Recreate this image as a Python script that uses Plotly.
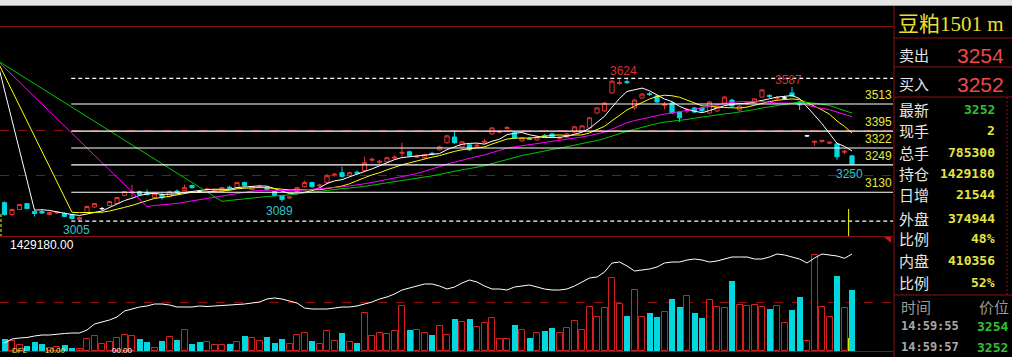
import pandas as pd
import plotly.graph_objects as go

W, H = 1012, 357

# ------------------------------------------------------------------ data
opens = [3085, 3033, 3055, 3081, 3046, 3046, 3033, 3040, 3038, 3033,
         3012, 3042, 3066, 3059, 3072, 3081, 3116, 3127, 3133, 3129,
         3107, 3120, 3111, 3135, 3137, 3159, 3133, 3140, 3135, 3133,
         3152, 3150, 3172, 3142, 3152, 3150, 3133, 3116, 3105, 3133,
         3154, 3172, 3157, 3172, 3204, 3215, 3202, 3217, 3224, 3269,
         3260, 3262, 3278, 3299, 3306, 3282, 3280, 3299, 3314, 3345,
         3370, 3327, 3336, 3330, 3347, 3383, 3390, 3407, 3388, 3353,
         3364, 3357, 3377, 3383, 3364, 3370, 3392, 3396, 3409, 3474,
         3483, 3561, 3602, 3610, 3496, 3539, 3558, 3548, 3507, 3517,
         3478, 3483, 3496, 3496, 3474, 3483, 3517, 3530, 3487, 3515,
         3517, 3543, 3550, 3537, 3539, 3561, 3522, 3375, 3347, 3351,
         3343, 3340, 3304, 3288]
highs = [3090, 3059, 3079, 3083, 3050, 3055, 3046, 3048, 3042, 3036,
         3025, 3072, 3083, 3066, 3092, 3109, 3135, 3163, 3137, 3142,
         3127, 3129, 3137, 3142, 3163, 3163, 3137, 3150, 3146, 3154,
         3159, 3176, 3176, 3157, 3163, 3154, 3137, 3118, 3111, 3154,
         3180, 3176, 3167, 3210, 3215, 3241, 3219, 3224, 3284, 3280,
         3271, 3284, 3290, 3345, 3310, 3293, 3297, 3306, 3332, 3379,
         3396, 3353, 3340, 3340, 3362, 3413, 3398, 3418, 3392, 3370,
         3370, 3375, 3383, 3388, 3375, 3388, 3418, 3422, 3457, 3500,
         3522, 3617, 3620, 3624, 3535, 3561, 3565, 3552, 3522, 3522,
         3483, 3496, 3500, 3500, 3526, 3509, 3548, 3535, 3509, 3526,
         3539, 3578, 3556, 3548, 3548, 3587, 3526, 3379, 3353, 3357,
         3349, 3345, 3312, 3290]
lows = [3029, 3025, 3053, 3057, 3025, 3036, 3029, 3036, 3022, 3012,
        3005, 3040, 3062, 3053, 3070, 3079, 3112, 3107, 3116, 3116,
        3103, 3098, 3107, 3124, 3135, 3146, 3129, 3137, 3131, 3129,
        3142, 3146, 3154, 3140, 3148, 3140, 3112, 3089, 3101, 3129,
        3150, 3150, 3152, 3167, 3198, 3194, 3198, 3208, 3219, 3262,
        3254, 3258, 3271, 3284, 3284, 3278, 3275, 3290, 3310, 3340,
        3340, 3323, 3310, 3325, 3340, 3379, 3386, 3403, 3362, 3349,
        3357, 3353, 3370, 3366, 3360, 3366, 3388, 3392, 3405, 3470,
        3478, 3556, 3595, 3600, 3487, 3535, 3548, 3517, 3491, 3470,
        3435, 3474, 3474, 3478, 3470, 3478, 3513, 3500, 3483, 3509,
        3513, 3539, 3539, 3530, 3535, 3543, 3487, 3370, 3332, 3345,
        3340, 3271, 3295, 3250]
closes = [3033, 3055, 3077, 3059, 3038, 3040, 3042, 3044, 3025, 3016,
          3020, 3068, 3081, 3059, 3090, 3107, 3133, 3131, 3120, 3120,
          3124, 3107, 3133, 3131, 3150, 3150, 3133, 3144, 3138, 3150,
          3148, 3172, 3159, 3154, 3155, 3142, 3116, 3098, 3109, 3150,
          3172, 3154, 3161, 3202, 3208, 3198, 3215, 3213, 3258, 3273,
          3264, 3280, 3282, 3303, 3288, 3286, 3293, 3295, 3327, 3375,
          3345, 3349, 3314, 3334, 3351, 3409, 3394, 3411, 3366, 3366,
          3360, 3370, 3373, 3370, 3368, 3383, 3414, 3418, 3453, 3496,
          3517, 3612, 3606, 3606, 3530, 3556, 3554, 3522, 3511, 3474,
          3453, 3487, 3478, 3483, 3522, 3504, 3543, 3504, 3504, 3519,
          3535, 3574, 3546, 3541, 3539, 3548, 3509, 3375, 3351, 3355,
          3347, 3284, 3308, 3252]
doji_idx = [13, 26, 104, 107]

# volume in thousands of lots, with bar colour (r = up / hollow red, c = down / cyan)
volume_k = [154, 129, 77, 64, 116, 90, 42, 51, 77, 42,
            26, 154, 193, 90, 116, 167, 206, 193, 154, 116,
            39, 129, 180, 142, 270, 90, 116, 116, 77, 77,
            90, 116, 193, 167, 129, 180, 103, 154, 90, 206,
            232, 129, 90, 257, 129, 232, 116, 103, 489, 193,
            232, 219, 257, 579, 270, 270, 232, 206, 322, 206,
            412, 373, 412, 309, 360, 425, 154, 154, 335, 270,
            167, 232, 257, 296, 232, 296, 386, 270, 566, 438,
            554, 940, 605, 451, 785, 438, 489, 438, 502, 669,
            566, 708, 489, 425, 657, 566, 554, 901, 592, 579,
            592, 566, 541, 579, 360, 528, 695, 129, 1236, 566,
            438, 966, 554, 785]
volume_dir = list("crrcccrrcc" "rrrrrrrrcc" "rcrcrccrrr"
                  "crcrrcccrr" "rcrrrcrcrr" "rrrrcrrcrr"
                  "crcrrrrrcr" "crccrrrrrr" "rrrcrrccrc"
                  "crccrrrcrr" "rrcrrccrrr" "rcrc")

open_interest = [984180, 1004180, 1009180, 1011680, 1019180, 1024180, 1024180, 1029180, 1031680, 1034180,
                 1034180, 1049180, 1079180, 1089180, 1099180, 1114180, 1144180, 1154180, 1164180, 1169180,
                 1179180, 1179180, 1174180, 1164180, 1164180, 1164180, 1169180, 1166680, 1169180, 1171680,
                 1174180, 1174180, 1179180, 1184180, 1189180, 1204180, 1209180, 1204180, 1194180, 1184180,
                 1159180, 1154180, 1154180, 1154180, 1159180, 1164180, 1164180, 1169180, 1179180, 1189180,
                 1204180, 1214180, 1229180, 1249180, 1259180, 1269180, 1279180, 1279180, 1269180, 1254180,
                 1264180, 1284180, 1299180, 1289180, 1269180, 1254180, 1254180, 1249180, 1264180, 1269180,
                 1274180, 1264180, 1254180, 1249180, 1249180, 1254180, 1269180, 1289180, 1309180, 1314180,
                 1339180, 1384180, 1389180, 1369180, 1344180, 1349180, 1354180, 1364180, 1384180, 1389180,
                 1389180, 1399180, 1404180, 1399180, 1389180, 1394180, 1404180, 1414180, 1414180, 1414180,
                 1404180, 1404180, 1414180, 1429180, 1424180, 1414180, 1404180, 1384180, 1409180, 1429180,
                 1424180, 1419180, 1407636, 1429180]

ma_periods = [5, 10, 20, 30]
ma_prev_value = 3703          # averages carried in from the bar left of the window
fib_solid = [3513, 3395, 3322, 3249, 3130]
fib_dashed = [3624, 3005]
grid_prices = [3201, 3396]
high_marks = [83, 105]
low_marks = [10, 37, 113]

title_text = "豆粕1501 m"
ask_bid = [("卖出", "3254"), ("买入", "3252")]
quote_labels = ["最新", "现手", "总手", "持仓", "日增", "外盘", "比例", "内盘", "比例"]
quote_values = ["3252", "2", "785300", "1429180", "21544", "374944", "48%", "410356", "52%"]
tick_times = ["14:59:55", "14:59:57"]
tick_prices = ["3254", "3252"]
oi_caption = "1429180.00"
footer_texts = [("DFL", "y"), ("10.00", "y"), ("00.00", "w")]

# ------------------------------------------------------------------ style
RED = "#E83232"
VRED = "#D42020"
CYAN = "#00D8E0"
DRED = "#8C1010"
YEL = "#E8E840"
MA_COLORS = ["#FFFFFF", "#FFFF00", "#FF00FF", "#00C800"]
FONT = "Liberation Sans, Arial, sans-serif"
CJK = "Noto Sans CJK SC, sans-serif"
MONO = "DejaVu Sans Mono, monospace"


def px(xp):
    return xp / W


def py(yp):
    return 1 - yp / H


PANEL_R = 893                      # right edge of the chart area (px)
BAR_PX = 7.5                       # px per bar
X0 = -4.5 / BAR_PX
X1 = X0 + PANEL_R / BAR_PX
PRICE_TOP, PRICE_BOT = 26, 236
VOL_TOP, VOL_BOT = 236, 351
P_PER_PX = 4.34
P_HI = 3513 + (104 - PRICE_TOP) * P_PER_PX
P_LO = 3513 - (PRICE_BOT - 104) * P_PER_PX
V_PER_PX = 12.874
V_HI = (VOL_BOT - VOL_TOP) * V_PER_PX
OI_PER_PX = 5000
OI_LO = 1429180 - (VOL_BOT - 254) * OI_PER_PX
OI_HI = 1429180 + (254 - VOL_TOP) * OI_PER_PX

n = len(closes)
idx = list(range(n))
fig = go.Figure()


def pick(arr, keep):
    return [v if keep(i) else None for i, v in enumerate(arr)]


not_doji = lambda i: i not in doji_idx
is_doji = lambda i: i in doji_idx
fig.add_trace(go.Candlestick(
    x=idx, open=pick(opens, not_doji), high=pick(highs, not_doji),
    low=pick(lows, not_doji), close=pick(closes, not_doji),
    increasing=dict(line=dict(color=RED, width=1), fillcolor="black"),
    decreasing=dict(line=dict(color=CYAN, width=1), fillcolor=CYAN),
    whiskerwidth=0, xaxis="x", yaxis="y", hoverinfo="skip"))
fig.add_trace(go.Candlestick(
    x=idx, open=pick(opens, is_doji), high=pick(highs, is_doji),
    low=pick(lows, is_doji), close=pick(closes, is_doji),
    increasing=dict(line=dict(color="#FFFFFF", width=1), fillcolor="#FFFFFF"),
    decreasing=dict(line=dict(color="#FFFFFF", width=1), fillcolor="#FFFFFF"),
    whiskerwidth=0, xaxis="x", yaxis="y", hoverinfo="skip"))

# moving averages of the close
cs = pd.Series(closes, dtype=float)
for p, col in zip(ma_periods, MA_COLORS):
    m = cs.rolling(p).mean()
    ys = [ma_prev_value] + [None if pd.isna(v) else float(v) for v in m]
    fig.add_trace(go.Scatter(x=[-1] + idx, y=ys, mode="lines", connectgaps=True,
                             line=dict(color=col, width=1), xaxis="x", yaxis="y",
                             hoverinfo="skip"))

# volume + open interest
up = [i for i in idx if volume_dir[i] == "r"]
dn = [i for i in idx if volume_dir[i] == "c"]
fig.add_trace(go.Bar(x=up, y=[volume_k[i] for i in up], width=0.8,
                     marker=dict(color="black", line=dict(color=VRED, width=1)),
                     xaxis="x2", yaxis="y2", hoverinfo="skip"))
fig.add_trace(go.Bar(x=dn, y=[volume_k[i] for i in dn], width=0.8,
                     marker=dict(color=CYAN, line=dict(width=0)),
                     xaxis="x2", yaxis="y2", hoverinfo="skip"))
fig.add_trace(go.Scatter(x=idx, y=open_interest, mode="lines",
                         line=dict(color="#FFFFFF", width=1),
                         xaxis="x2", yaxis="y3", hoverinfo="skip"))

# ------------------------------------------------------------------ shapes
shapes = []
fib_start = 8.9
for lv in fib_solid:
    shapes.append(dict(type="line", xref="x", yref="y", x0=fib_start, x1=X1, y0=lv, y1=lv,
                       line=dict(color="#FFFFFF", width=1.2)))
for lv in fib_dashed:
    shapes.append(dict(type="line", xref="x", yref="y", x0=fib_start, x1=X1, y0=lv, y1=lv,
                       line=dict(color="#FFFFFF", width=1.2, dash="4px,3px")))


def hline(y, x0, x1, color=DRED, dash=None, width=1):
    ln = dict(color=color, width=width)
    if dash:
        ln["dash"] = dash
    shapes.append(dict(type="line", xref="paper", yref="paper", x0=px(x0), x1=px(x1),
                       y0=py(y), y1=py(y), line=ln, layer="above"))


def vline(x, y0, y1, color=DRED, dash=None, width=1):
    ln = dict(color=color, width=width)
    if dash:
        ln["dash"] = dash
    shapes.append(dict(type="line", xref="paper", yref="paper", x0=px(x), x1=px(x),
                       y0=py(y0), y1=py(y1), line=ln, layer="above"))


# window frame strip
shapes.append(dict(type="rect", xref="paper", yref="paper", x0=0, x1=1, y0=py(5), y1=1,
                   fillcolor="#E4E4E4", line=dict(width=0), layer="above"))
hline(5.5, 0, W, color="#9A9A9A")
# panel borders
hline(PRICE_TOP + 0.5, 0, PANEL_R)
hline(PRICE_BOT + 0.5, 0, PANEL_R)
hline(VOL_BOT + 0.5, 0, PANEL_R)
vline(PANEL_R + 1, 6, H)
# right info panel separators
for yy in (38, 67, 97, 295):
    hline(yy, PANEL_R + 1, W)
vline(1007, 97, 295, dash="2px,2px")
# cursor / markers
cur_x = idx[-1] - 0.45
shapes.append(dict(type="line", xref="x", yref="paper", x0=cur_x, x1=cur_x,
                   y0=py(209), y1=py(PRICE_BOT), line=dict(color="#FFFF00", width=1)))
shapes.append(dict(type="line", xref="x", yref="paper", x0=cur_x, x1=cur_x,
                   y0=py(338), y1=py(VOL_BOT), line=dict(color="#FFFF00", width=1)))
vline(1, 214, 236, color="#FFFF00", dash="3px,2px")
shapes.append(dict(type="path", xref="paper", yref="paper", fillcolor="#C81818",
                   line=dict(width=0),
                   path=f"M {px(884)} {py(237)} L {px(891)} {py(237)} L {px(891)} {py(243)} Z"))

# ------------------------------------------------------------------ annotations
ann = []


def text(x, y, s, color, size, family=FONT, xanchor="left", yanchor="middle", bold=False):
    if bold:
        s = f"<b>{s}</b>"
    ann.append(dict(x=px(x), y=py(y), xref="paper", yref="paper", text=s, showarrow=False,
                    xanchor=xanchor, yanchor=yanchor,
                    font=dict(color=color, size=size, family=family)))


# fib labels
for lv in fib_solid:
    ann.append(dict(x=px(PANEL_R + 1), xref="paper", y=lv, yref="y", text=str(lv),
                    showarrow=False, xanchor="right", yanchor="bottom", yshift=0,
                    font=dict(color=YEL, size=12, family=FONT)))
# high / low marks
for i in high_marks:
    ann.append(dict(x=i, y=highs[i], xref="x", yref="y", text=str(highs[i]), showarrow=False,
                    xanchor="center", yanchor="bottom", xshift=-4, yshift=-2,
                    font=dict(color="#D83030", size=12, family=FONT)))
for i in low_marks:
    ann.append(dict(x=i, y=lows[i], xref="x", yref="y", text=str(lows[i]), showarrow=False,
                    xanchor="center", yanchor="top", xshift=-3, yshift=0,
                    font=dict(color="#30C8C8", size=12, family=FONT)))

text(8, 245, oi_caption, "#FFFFFF", 12)
for (s, c), xx in zip(footer_texts, (10, 43, 110)):
    text(xx, 357, s, YEL if c == "y" else "#FFFFFF", 8, yanchor="bottom")

# right info panel
text(896, 24, title_text, "#E8E030", 21, family="Liberation Serif, Noto Sans CJK SC, serif")
for (lab, val), yy in zip(ask_bid, (54, 83)):
    text(897, yy, lab, "#E6E6E6", 15, family=CJK)
    text(1006, yy + 1, val, "#F04848", 21, xanchor="right")
row_y = [109, 130, 152, 173, 195, 218, 239, 260, 282]
for k, (lab, val, yy) in enumerate(zip(quote_labels, quote_values, row_y)):
    text(897, yy, lab, "#E6E6E6", 15, family=CJK)
    text(997, yy, val, "#30C030" if k == 0 else "#E4E440", 13, family=MONO,
         xanchor="right", bold=True)
text(899, 306, "时间", "#9A9A9A", 15, family=CJK)
text(1011, 306, "价位", "#9A9A9A", 15, family=CJK, xanchor="right")
for t, p, yy in zip(tick_times, tick_prices, (326, 347)):
    text(899, yy, t, "#A8A8A8", 12, family=MONO, bold=True)
    text(1010, yy, p, "#30C030", 13, family=MONO, xanchor="right", bold=True)

# ------------------------------------------------------------------ layout
XR = PANEL_R / W
fig.update_layout(
    width=W, height=H, margin=dict(l=0, r=0, t=0, b=0), autosize=False,
    paper_bgcolor="black", plot_bgcolor="black", showlegend=False,
    boxgap=0.2, barmode="overlay", bargap=0,
    xaxis=dict(domain=[0, XR], range=[X0, X1], visible=False, anchor="y",
               rangeslider=dict(visible=False)),
    xaxis2=dict(domain=[0, XR], range=[X0, X1], visible=False, anchor="y2"),
    yaxis=dict(domain=[py(PRICE_BOT), py(PRICE_TOP)], range=[P_LO, P_HI], anchor="x",
               tickvals=grid_prices, showticklabels=False, ticks="", showgrid=True,
               gridcolor=DRED, griddash="dash", gridwidth=1, zeroline=False, showline=False),
    yaxis2=dict(domain=[py(VOL_BOT), py(VOL_TOP)], range=[0, V_HI], anchor="x2",
                tickvals=[(VOL_BOT - 302) * V_PER_PX], showticklabels=False, ticks="",
                showgrid=True, gridcolor=DRED, griddash="dash", zeroline=False),
    yaxis3=dict(overlaying="y2", range=[OI_LO, OI_HI], anchor="x2", visible=False),
    shapes=shapes, annotations=ann,
)

fig.write_html("out.html", config={"displayModeBar": False},
               post_script="document.body.style.margin='0';document.body.style.background='black';")
